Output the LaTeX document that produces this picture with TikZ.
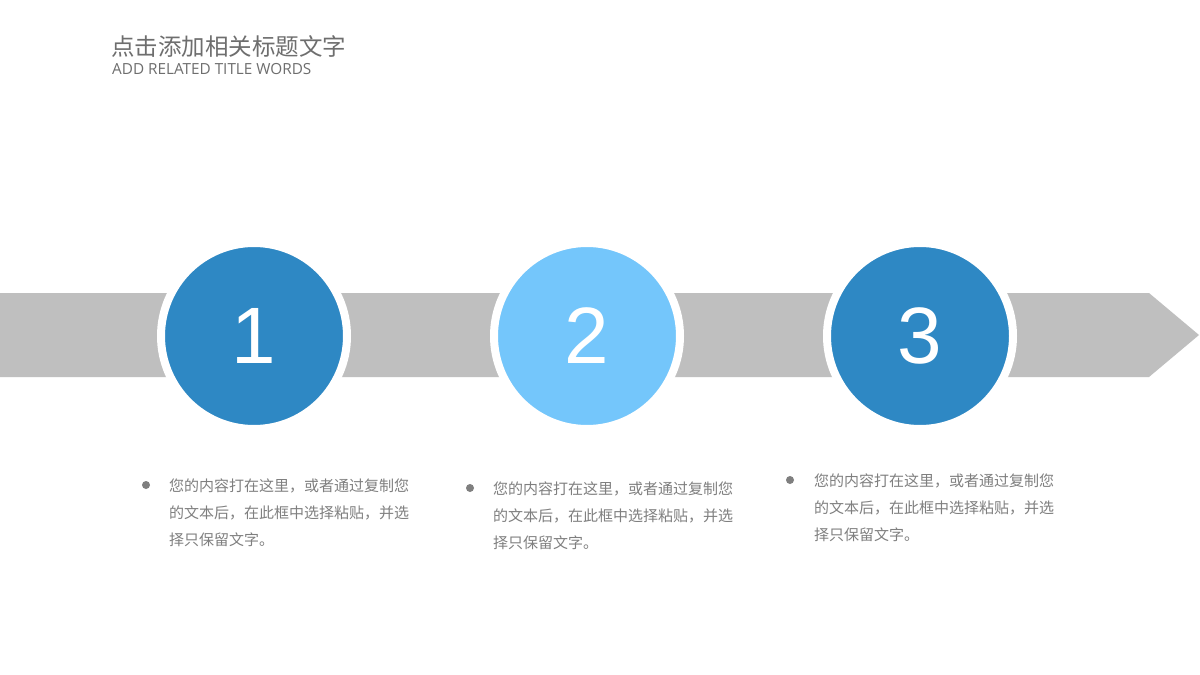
\documentclass[tikz,border=0pt]{standalone}
\usepackage{fontspec}
\setmainfont{Open Sans}
\newfontfamily\cjk{Noto Sans CJK SC}
\newfontfamily\numfont{Liberation Sans}
\newfontfamily\latinfont{Open Sans}
\definecolor{bandgray}{HTML}{BFBFBF}
\definecolor{darkblue}{HTML}{2E88C4}
\definecolor{lightblue}{HTML}{74C6FB}
\definecolor{titlegray}{HTML}{6E6E6E}
\definecolor{bodygray}{HTML}{7F7F7F}
\begin{document}
\begin{tikzpicture}[x=1pt,y=-1pt,
  disc/.style={circle, minimum size=186pt, inner sep=0pt, outer sep=0pt, draw=white, line width=8pt, text=white, font=\numfont\fontsize{80}{80}\selectfont},
  bodytext/.style={anchor=north west, inner sep=0pt, align=left, text=bodygray, font=\cjk\fontsize{15}{27}\selectfont},
  bullet/.style={circle, fill=bodygray, minimum size=8pt, inner sep=0pt}]
\useasboundingbox (0,0) rectangle (1200,675);
\fill[white] (0,0) rectangle (1200,675);
% title
\node[anchor=base west, inner sep=0pt, text=titlegray, font=\cjk\fontsize{23.5}{23.5}\selectfont] (title) at (111,55) {点击添加相关标题文字};
\node[anchor=base west, inner sep=0pt, text=titlegray, font=\latinfont\fontsize{15.3}{15.3}\selectfont] (subtitle) at (112,74) {ADD RELATED TITLE WORDS};
% band
\fill[bandgray] (0,293) -- (1149,293) -- (1199,335) -- (1149,377) -- (0,377) -- cycle;
% circles
\node[disc, fill=darkblue] (c1) at (254,336) {};
\node[disc, fill=lightblue] (c2) at (587,336) {};
\node[disc, fill=darkblue] (c3) at (920,336) {};
\node[anchor=base, inner sep=0pt, text=white, font=\numfont\fontsize{80}{80}\selectfont] (n1) at (254,363) {1};
\node[anchor=base, inner sep=0pt, text=white, font=\numfont\fontsize{80}{80}\selectfont] (n2) at (587,363) {2};
\node[anchor=base, inner sep=0pt, text=white, font=\numfont\fontsize{80}{80}\selectfont] (n3) at (920,363) {3};
% texts
\node[bullet] (b1) at (146,485) {};
\node[bodytext] (t1) at (169,479) {您的内容打在这里，或者通过复制您\\的文本后，在此框中选择粘贴，并选\\择只保留文字。};
\node[bullet] (b2) at (470,488) {};
\node[bodytext] (t2) at (493,482) {您的内容打在这里，或者通过复制您\\的文本后，在此框中选择粘贴，并选\\择只保留文字。};
\node[bullet] (b3) at (790,480) {};
\node[bodytext] (t3) at (814,474) {您的内容打在这里，或者通过复制您\\的文本后，在此框中选择粘贴，并选\\择只保留文字。};
\end{tikzpicture}
\end{document}
